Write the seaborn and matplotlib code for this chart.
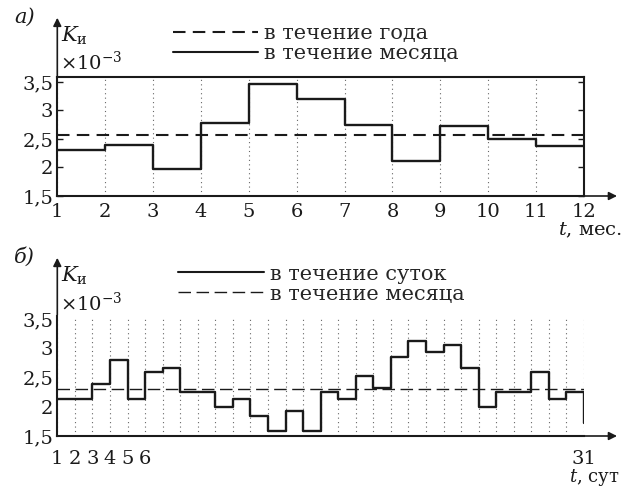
import numpy as np
import matplotlib
matplotlib.use("Agg")
import matplotlib.pyplot as plt
import seaborn as sns
from matplotlib.lines import Line2D

# monthly values (a) and daily values (б), x10^-3
months = list(range(1, 13))
month_vals = [2.30, 2.39, 1.97, 2.78, 3.47, 3.20, 2.74, 2.12, 2.72, 2.50, 2.37]
year_mean = 2.57

days = list(range(1, 32))
day_vals = [2.13, 2.13, 2.39, 2.81, 2.13, 2.60, 2.66, 2.26, 2.26, 1.99,
            2.13, 1.84, 1.59, 1.92, 1.59, 2.25, 2.13, 2.53, 2.32, 2.86,
            3.13, 2.94, 3.06, 2.66, 1.99, 2.26, 2.26, 2.59, 2.13, 2.26]
day_end = 1.72
month_mean = 2.31

ytick_vals = [1.5, 2, 2.5, 3, 3.5]
ytick_labels = ["1,5", "2", "2,5", "3", "3,5"]
day_labels = ["1", "2", "3", "4", "5", "6"] + [""] * 24 + ["31"]

sns.set_theme(style="white")
plt.rcParams["font.family"] = ["DejaVu Serif"]
plt.rcParams["mathtext.fontset"] = "dejavuserif"

W, H = 632, 487
fig = plt.figure(figsize=(W / 100, H / 100), dpi=100)
fs = 14
lfs = 15
ink = "#1a1a1a"


def fx(px):
    return px / W


def fy(py):
    return 1 - py / H


ax1 = fig.add_axes([fx(57.3), fy(196), fx(526.7), 118.7 / H])
ax2 = fig.add_axes([fx(57.3), fy(436), fx(526.7), 119.6 / H])

# ---- panel a ----
sns.lineplot(x=months, y=month_vals + [month_vals[-1]], ax=ax1, drawstyle="steps-post",
             color=ink, lw=1.7, estimator=None, sort=False)
ax1.axhline(year_mean, color=ink, lw=1.5, dashes=(6, 3.5))
ax1.set_xlim(1, 12)
ax1.set_ylim(1.5, 3.58)
ax1.set_xticks(months)
ax1.set_xticklabels([str(m) for m in months], fontsize=fs)
ax1.set_yticks(ytick_vals)
ax1.set_yticklabels(ytick_labels, fontsize=fs)
ax1.tick_params(axis="y", direction="in", length=4, width=1, left=True, right=True, pad=3, colors=ink)
ax1.tick_params(axis="x", direction="in", length=0, pad=5, colors=ink)
ax1.grid(axis="x", color="#666666", lw=0.8, linestyle=(0, (1, 3)))
for s in ax1.spines.values():
    s.set_color(ink)
    s.set_linewidth(1.5)
leg1 = [Line2D([], [], color=ink, lw=1.5, dashes=(6, 3.5)),
        Line2D([], [], color=ink, lw=1.5)]
ax1.legend(leg1, ["в течение года", "в течение месяца"], loc="center left",
           bbox_to_anchor=(0.199, 1.285), frameon=False, fontsize=lfs, borderpad=0,
           handlelength=4.1, handletextpad=0.3, labelspacing=0.05)

# ---- panel б ----
sns.lineplot(x=days, y=day_vals + [day_end], ax=ax2, drawstyle="steps-post",
             color=ink, lw=1.7, estimator=None, sort=False)
ax2.axhline(month_mean, color=ink, lw=1.0, dashes=(9, 4))
ax2.set_xlim(1, 31)
ax2.set_ylim(1.5, 3.55)
ax2.set_xticks(days)
ax2.set_xticklabels(day_labels, fontsize=fs)
ax2.set_yticks(ytick_vals)
ax2.set_yticklabels(ytick_labels, fontsize=fs)
ax2.tick_params(axis="y", direction="in", length=4, width=1, pad=3, colors=ink)
ax2.tick_params(axis="x", direction="in", length=4, width=1, pad=10, colors=ink)
ax2.grid(axis="x", color="#666666", lw=0.8, linestyle=(0, (1, 3)))
ax2.spines["top"].set_visible(False)
ax2.spines["right"].set_visible(False)
for s in ("left", "bottom"):
    ax2.spines[s].set_color(ink)
    ax2.spines[s].set_linewidth(1.5)
leg2 = [Line2D([], [], color=ink, lw=1.5),
        Line2D([], [], color=ink, lw=1.0, dashes=(9, 4))]
ax2.legend(leg2, ["в течение суток", "в течение месяца"], loc="center left",
           bbox_to_anchor=(0.21, 1.27), frameon=False, fontsize=lfs, borderpad=0,
           handlelength=4.1, handletextpad=0.3, labelspacing=0.05)

# axis arrows
for ax, ytip in ((ax1, 1.525), (ax2, 1.513)):
    ax.annotate("", xy=(1.068, 0), xytext=(0.99, 0), xycoords="axes fraction",
                arrowprops=dict(arrowstyle="-|>", color=ink, lw=1.2, mutation_scale=12),
                annotation_clip=False)
    ax.annotate("", xy=(0, ytip), xytext=(0, 0.99), xycoords="axes fraction",
                arrowprops=dict(arrowstyle="-|>", color=ink, lw=1.2, mutation_scale=12),
                annotation_clip=False)

# labels
fig.text(fx(14), fy(17), "а)", fontsize=fs + 1, style="italic", va="center", color=ink)
fig.text(fx(14), fy(257), "б)", fontsize=fs + 1, style="italic", va="center", color=ink)
fig.text(fx(61), fy(36), r"$K_{\mathrm{и}}$", fontsize=fs + 1, va="center", color=ink)
fig.text(fx(61), fy(276), r"$K_{\mathrm{и}}$", fontsize=fs + 1, va="center", color=ink)
fig.text(fx(60), fy(62), r"$\times10^{-3}$", fontsize=fs, va="center", color=ink)
fig.text(fx(60), fy(303), r"$\times10^{-3}$", fontsize=fs, va="center", color=ink)
fig.text(fx(622), fy(230), r"$t$, мес.", fontsize=fs, ha="right", va="center", color=ink)
fig.text(fx(620), fy(478), r"$t$, сут", fontsize=fs - 1, ha="right", va="center", color=ink)

fig.savefig("out.png", dpi=100)
